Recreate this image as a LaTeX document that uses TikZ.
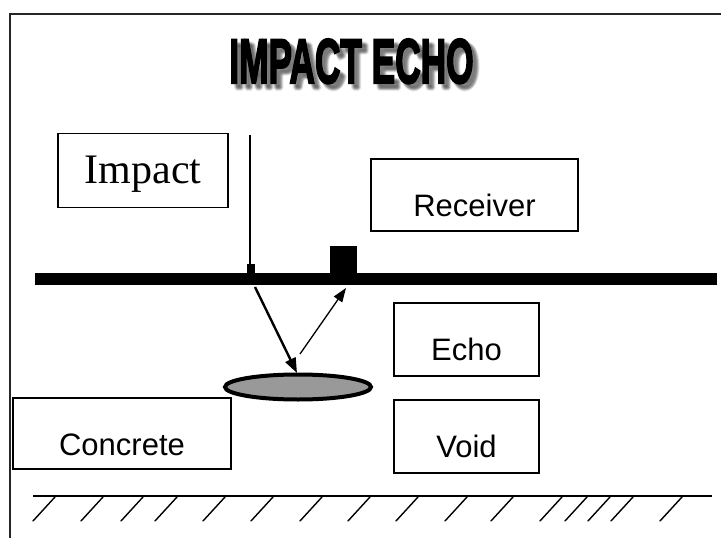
\documentclass[tikz,border=0pt]{standalone}
\usepackage{fontspec}
\usepackage{graphicx}
\usetikzlibrary{arrows.meta,shapes.geometric}
\newfontfamily\titlefont[FakeBold=3.5]{Liberation Sans Bold}
\newfontfamily\sansf{Liberation Sans}
\newfontfamily\seriff{Liberation Serif}
\tikzset{
  labelbox/.style={draw, line width=1.4pt, inner sep=0pt, align=center,
    font=\sansf\fontsize{31}{31}\selectfont},
  titlestyle/.style={font=\titlefont\fontsize{63}{63}\selectfont, anchor=base, inner sep=0pt},
  hatch/.style={line width=1.4pt, line cap=round},
  probe/.style={-{Triangle[length=15pt,width=11pt]}, line width=2.4pt},
  echoline/.style={-{Triangle[length=14pt,width=10pt]}, line width=1.3pt},
}
\newcommand{\titletext}{\scalebox{0.56}[1]{IMPACT ECHO}}
\begin{document}
\begin{tikzpicture}[x=1pt,y=-1pt]
\useasboundingbox (0,0) rectangle (721,538);
\fill[white] (0,0) rectangle (721,538);
% frame
\draw[line width=2pt, black!85] (10,538) -- (10,14) -- (721,14);
% title with soft shadow
\foreach \dx/\dy in {3/3,4/4,5/5,6/6,4/6,6/4,5/7,7/5,3/5,5/3}{
  \node[titlestyle, text=black, opacity=0.06] at (351.5+\dx,83+\dy) {\titletext};
}
\node[titlestyle] (title) at (351.5,83) {\titletext};
% boxes
\node[labelbox, font=\seriff\fontsize{42}{42}\selectfont, minimum width=170pt,
      text height=50pt, text depth=24pt] (impact) at (143,170.3) {Impact};
\node[labelbox, minimum width=207pt, text height=57pt, text depth=15pt] (receiver) at (474.5,195) {Receiver};
\node[labelbox, minimum width=145pt, text height=57pt, text depth=16pt] (echo) at (466.5,339.5) {Echo};
\node[labelbox, minimum width=145pt, text height=57pt, text depth=16pt] (voidbox) at (466.5,436.5) {Void};
\node[labelbox, minimum width=218pt, text height=57pt, text depth=14pt] (concrete) at (122,433.5) {Concrete};
% slab
\fill[black] (35,273) rectangle (717,285);
% impactor
\coordinate (hammertop) at (250,135);
\node[fill=black, minimum width=8pt, minimum height=9pt, inner sep=0pt] (hammer) at (251,268.5) {};
\draw[line width=2pt] (hammertop) -- (hammer.north -| hammertop);
% receiver block
\node[fill=black, minimum width=27pt, minimum height=27pt, inner sep=0pt] (sensor) at (343.5,259.5) {};
% flaw
\node[ellipse, draw, line width=4pt, fill=black!40, minimum width=146pt, minimum height=25pt, inner sep=0pt] (flaw) at (298,387) {};
% waves
\coordinate (hit) at (255,287);
\coordinate (down) at (297,373);
\coordinate (back) at (300,354);
\coordinate (up) at (346,288);
\draw[probe] (hit) -- (down);
\draw[echoline] (back) -- (up);
% ground
\draw[line width=1.4pt] (33,496) -- (712,496);
\foreach \t in {55,103,143,177,225,273,322,370,418,467,513,562,587,610,633,682}{
  \draw[hatch] (\t-22,521) -- (\t,497);
}
\end{tikzpicture}
\end{document}
